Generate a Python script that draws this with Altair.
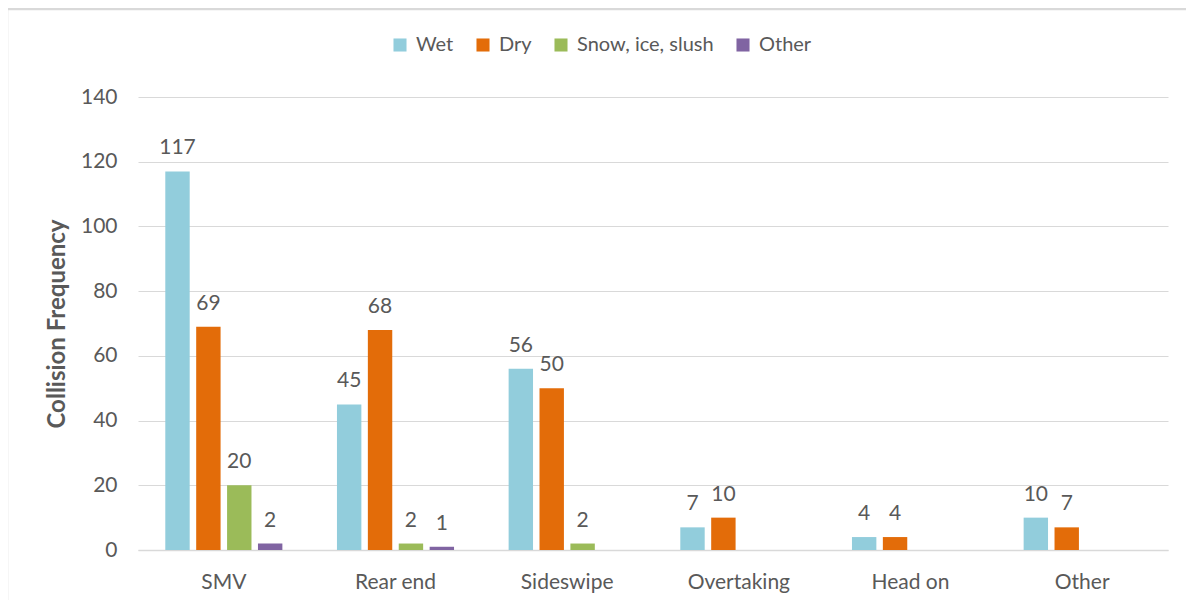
import altair as alt
import pandas as pd

categories = ["SMV", "Rear end", "Sideswipe", "Overtaking", "Head on", "Other"]
series = ["Wet", "Dry", "Snow, ice, slush", "Other"]
wet = [117, 45, 56, 7, 4, 10]
dry = [69, 68, 50, 10, 4, 7]
snow = [20, 2, 2, 0, 0, 0]
other = [2, 1, 0, 0, 0, 0]
colors = ["#92CDDC", "#E36C09", "#9BBB59", "#8064A2"]

rows = []
for s, vals in zip(series, [wet, dry, snow, other]):
    for c, v in zip(categories, vals):
        if v > 0:
            rows.append({"Type": c, "Condition": s, "Value": v})
df = pd.DataFrame(rows)

FONT = "Lato"
TXT = "#595959"

x = alt.X("Type:N", sort=categories,
          scale=alt.Scale(paddingInner=0.318, paddingOuter=0.159),
          axis=alt.Axis(title=None, labelAngle=0, labelFontSize=21, labelColor=TXT,
                        labelFont=FONT, labelPadding=21, ticks=False,
                        domainColor="#D9D9D9", domainWidth=1.5, grid=False))
xo = alt.XOffset("Condition:N", sort=series,
                 scale=alt.Scale(domain=series, paddingInner=0.21, paddingOuter=0))
y = alt.Y("Value:Q", scale=alt.Scale(domain=[0, 140]),
          axis=alt.Axis(title="Collision Frequency", values=list(range(0, 141, 20)),
                        titleFontSize=24, titleFont=FONT, titleColor=TXT, titleFontWeight="bold",
                        titlePadding=11, labelFontSize=21, labelFont=FONT, labelColor=TXT,
                        labelPadding=21, ticks=False, domain=False,
                        gridColor="#D9D9D9", gridWidth=1.2))
color = alt.Color("Condition:N", sort=series,
                  scale=alt.Scale(domain=series, range=colors),
                  legend=alt.Legend(title=None, orient="none", direction="horizontal",
                                    legendX=252, legendY=-62, symbolType="square",
                                    symbolSize=170, symbolStrokeWidth=0,
                                    labelFontSize=20, labelFont=FONT, labelColor=TXT,
                                    columnPadding=19, labelOffset=6))

bars = alt.Chart(df).mark_bar().encode(x=x, xOffset=xo, y=y, color=color)
labels = alt.Chart(df).mark_text(baseline="alphabetic", dy=-17, fontSize=21, font=FONT,
                                 color=TXT).encode(
    x=alt.X("Type:N", sort=categories), xOffset=alt.XOffset("Condition:N", sort=series),
    y="Value:Q", text="Value:Q")

border_df = pd.DataFrame({"k": ["top", "left"]})
border_top = alt.Chart(border_df).transform_filter("datum.k == 'top'").mark_rule(
    color="#D9D9D9", strokeWidth=2.5).encode(
    x=alt.value(-131), x2=alt.value(1060), y=alt.value(-88))
border_left = alt.Chart(border_df).transform_filter("datum.k == 'left'").mark_rule(
    color="#D9D9D9", strokeWidth=2.5).encode(
    x=alt.value(-131), y=alt.value(-88), y2=alt.value(520))

chart = alt.layer(border_top, border_left, bars, labels).properties(
    width=1030, height=453,
    background="white",
    padding={"left": 130, "top": 89, "right": 18, "bottom": 50},
    autosize=alt.AutoSizeParams(type="none"),
).configure_view(strokeWidth=0, stroke="transparent")

chart.save("out.html", embed_options={"renderer": "svg", "actions": False})
